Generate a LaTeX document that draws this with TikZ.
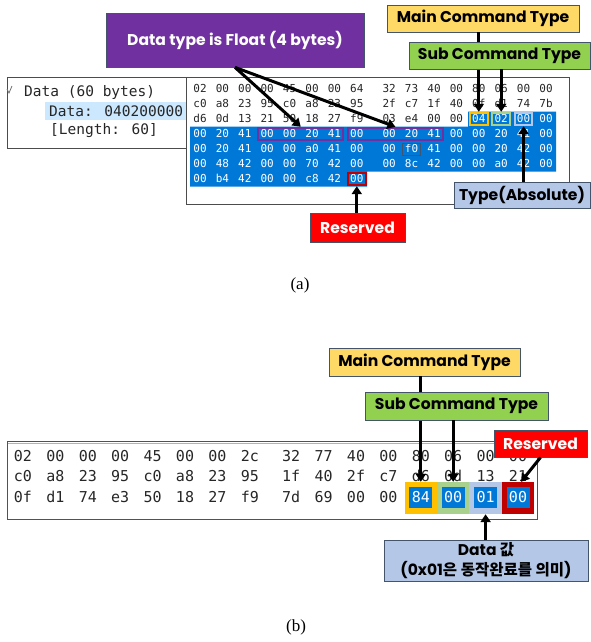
\documentclass[tikz,border=0pt]{standalone}
\usepackage{fontspec}
\setmainfont{Liberation Serif}
\newfontfamily\calloutfont{Poppins}
\newfontfamily\krfont{Noto Sans CJK KR}
\newfontfamily\hexfont{DejaVu Sans Mono}
\usetikzlibrary{arrows.meta,fit}

\definecolor{selblue}{HTML}{0078D7}
\definecolor{rowblue}{HTML}{CCE8FF}
\definecolor{frame}{HTML}{44546A}
\definecolor{cpurple}{HTML}{7030A0}
\definecolor{cyellow}{HTML}{FFD966}
\definecolor{cgreen}{HTML}{92D050}
\definecolor{clight}{HTML}{B4C7E7}
\definecolor{cred}{HTML}{FF0000}
\definecolor{borange}{HTML}{FFC000}
\definecolor{bgreen}{HTML}{A9D18E}
\definecolor{bred}{HTML}{C00000}

\begin{document}
\begin{tikzpicture}[
        x=1pt, y=-1pt,
        callout/.style={draw=frame, line width=0.8pt, inner sep=0pt, align=center,
            font=\calloutfont\bfseries\fontsize{15.6}{18}\selectfont},
        hexa/.style={inner sep=0pt, text height=7.5pt, text depth=0.5pt,
            font=\hexfont\fontsize{11}{11}\selectfont},
        hexb/.style={inner sep=0pt, text height=10.5pt, text depth=0.5pt,
            font=\hexfont\fontsize{15}{15}\selectfont},
        markbox/.style={draw=#1, line width=2pt, inner sep=2pt},
        pointer/.style={line width=3pt, -{Triangle[width=10pt,length=8pt]}},
        caption/.style={font=\fontsize{17}{20}\selectfont}
    ]
    \useasboundingbox (0,0) rectangle (591,642);

    % --- (a) packet details pane
    \draw[black!70, line width=0.8pt] (7,77) rectangle (186,148);
    \fill[rowblue] (45,102) rectangle (186,120);
    \draw[black!55, line width=0.8pt] (7,89) -- (9,93) -- (12,86);
    \begin{scope}[font=\hexfont\fontsize{14.5}{14.5}\selectfont, black!85]
        \node[anchor=west, inner sep=0pt] (dtitle) at (24,92) {Data (60 bytes)};
        \node[anchor=west, inner sep=0pt] (dvalue) at (49,111) {Data: 040200000};
        \node[anchor=west, inner sep=0pt] (dlength) at (50,131) {[Length: 60]};
    \end{scope}

    % --- (a) bytes pane
    \draw[black!70, line width=0.8pt, fill=white] (186,77) rectangle (569,204);
    \fill[selblue] (468,111.5) -- (556,111.5) -- (556,171.5) -- (367,171.5)
        -- (367,186.5) -- (190,186.5) -- (190,126.5) -- (468,126.5) -- cycle;
    \foreach \line [count=\r] in {
        {02,00,00,00,45,00,00,64,32,73,40,00,80,06,00,00},
        {c0,a8,23,95,c0,a8,23,95,2f,c7,1f,40,0f,d1,74,7b},
        {d6,0d,13,21,50,18,27,f9,03,e4,00,00,04,02,00,00},
        {00,20,41,00,00,20,41,00,00,20,41,00,00,20,41,00},
        {00,20,41,00,00,a0,41,00,00,f0,41,00,00,20,42,00},
        {00,48,42,00,00,70,42,00,00,8c,42,00,00,a0,42,00},
        {00,b4,42,00,00,c8,42,00}} {
        \foreach \b [count=\c from 0] in \line {
            \pgfmathsetmacro\xx{200+22.4*\c+(\c>7)*10}
            \pgfmathtruncatemacro\sel{(\r>3)||(\r==3&&\c>11)}
            \ifnum\sel=1 \def\hexcol{white}\else\def\hexcol{black!85}\fi
            \node[hexa, text=\hexcol] (a\r-\c) at (\xx,74+15*\r) {\b};
        }
    }
    \node[draw=frame, line width=0.6pt, inner sep=2pt, fit=(a5-9)] (cursor) {};
    \node[markbox=cpurple, fit=(a4-3) (a4-6)] (floata) {};
    \node[markbox=cpurple, fit=(a4-7) (a4-10)] (floatb) {};
    \node[markbox=borange, fit=(a3-12)] (mainsela) {};
    \node[markbox=bgreen, fit=(a3-13)] (subsela) {};
    \node[markbox=clight, fit=(a3-14)] (abssel) {};
    \node[markbox=bred, fit=(a7-7)] (ressela) {};

    % --- (a) callouts
    \node[callout, fill=cpurple, text=white, minimum width=258pt, minimum height=54pt]
        (ftype) at (235,40) {Data type is Float (4 bytes)};
    \draw[pointer] (ftype.south) -- (floata.north);
    \draw[pointer] (ftype.south) -- (floatb.north);
    \node[callout, fill=cyellow, minimum width=192pt, minimum height=27pt]
        (maina) at (483,18.5) {Main Command Type};
    \draw[pointer] (mainsela.north |- maina.south) -- (mainsela.north);
    \node[callout, fill=cgreen, minimum width=181pt, minimum height=27pt]
        (suba) at (499.5,55.5) {Sub Command Type};
    \draw[pointer] (subsela.north |- suba.south) -- (subsela.north);
    \node[callout, fill=clight, minimum width=136pt, minimum height=26pt]
        (typea) at (522,195) {Type(Absolute)};
    \draw[pointer] (abssel.south |- typea.north) -- (abssel.south);
    \node[callout, fill=cred, text=white, minimum width=95pt, minimum height=29pt]
        (resa) at (357.5,227.5) {Reserved};
    \draw[pointer] (ressela.south |- resa.north) -- (ressela.south);

    \node[caption] (capa) at (300,285) {(a)};

    % --- (b) bytes pane
    \draw[frame, line width=0.8pt] (7,441) rectangle (537,519);
    \draw[black!30, line width=1pt] (8,443.5) -- (536,443.5);
    \node[fill=borange, minimum width=32.4pt, minimum height=32pt] (mainselb) at (420.8,498) {};
    \node[fill=bgreen, minimum width=32.4pt, minimum height=32pt] (subselb) at (453.2,498) {};
    \node[fill=clight, minimum width=32.4pt, minimum height=32pt] (datasel) at (485.6,498) {};
    \node[fill=bred, minimum width=32.4pt, minimum height=32pt] (resselb) at (518,498) {};
    \foreach \line [count=\r] in {
        {02,00,00,00,45,00,00,2c,32,77,40,00,80,06,00,00},
        {c0,a8,23,95,c0,a8,23,95,1f,40,2f,c7,d6,0d,13,21},
        {0f,d1,74,e3,50,18,27,f9,7d,69,00,00,84,00,01,00}} {
        \foreach \b [count=\c from 0] in \line {
            \pgfmathsetmacro\xx{23+32.4*\c+(\c>7)*9}
            \pgfmathtruncatemacro\sel{(\r==3&&\c>11)}
            \ifnum\sel=1 \def\hexcol{white}\def\cellfill{selblue}%
            \else\def\hexcol{black!85}\def\cellfill{none}\fi
            \node[hexb, text=\hexcol, fill=\cellfill, minimum width=23pt, minimum height=21pt]
                (b\r-\c) at (\xx,435.5+20.5*\r) {\b};
        }
    }

    % --- (b) callouts
    \node[callout, fill=cyellow, minimum width=191pt, minimum height=28pt]
        (mainb) at (424.5,362) {Main Command Type};
    \draw[pointer] (mainselb.north |- mainb.south) -- (mainselb.north);
    \node[callout, fill=cgreen, minimum width=183pt, minimum height=28pt]
        (subb) at (456.5,406) {Sub Command Type};
    \draw[pointer] (subselb.north |- subb.south) -- (subselb.north);
    \node[callout, fill=cred, text=white, minimum width=93pt, minimum height=27pt]
        (resb) at (540.5,443.5) {Reserved};
    \draw[pointer] (resb.south) -- ([xshift=3pt]resselb.north);
    \node[callout, fill=clight, minimum width=204pt, minimum height=41pt,
        font=\calloutfont\bfseries\fontsize{15.5}{19.5}\selectfont]
        (datab) at (486,560.5) {Data {\krfont\bfseries 값}\\(0x01{\krfont\bfseries 은 동작완료를 의미})};
    \draw[pointer] (datasel.south |- datab.north) -- (datasel.south);

    \node[caption] (capb) at (296,627) {(b)};
\end{tikzpicture}
\end{document}
